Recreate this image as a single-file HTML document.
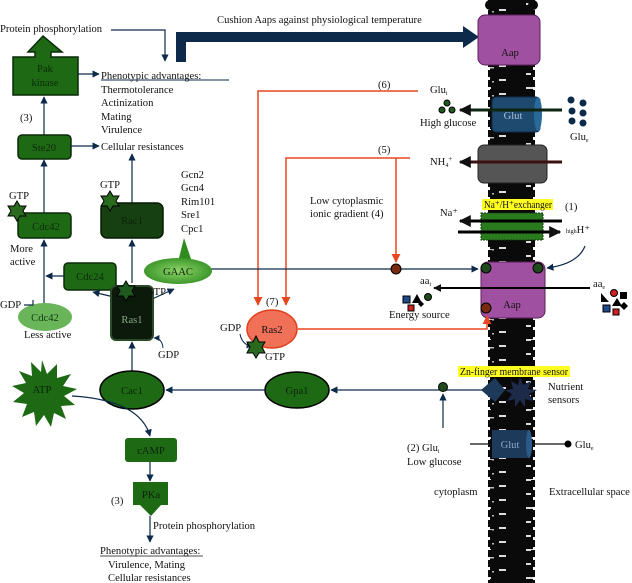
<!DOCTYPE html>
<html><head><meta charset="utf-8"><style>
html,body{margin:0;padding:0;background:#fff}
svg{display:block}
text{font-family:"Liberation Serif",serif;font-size:10.6px;fill:#111}
.w{fill:#cfe8c8;font-size:11px}
</style></head><body>
<svg width="632" height="583" viewBox="0 0 632 583" xmlns="http://www.w3.org/2000/svg">
<defs>
<marker id="a" viewBox="0 0 10 10" refX="9" refY="5" markerWidth="6" markerHeight="6" orient="auto"><path d="M0,0L10,5L0,10z" fill="#0d2a4a"/></marker>
<marker id="r" viewBox="0 0 10 10" refX="9" refY="5" markerWidth="6" markerHeight="6" orient="auto"><path d="M0,0L10,5L0,10z" fill="#e8461e"/></marker>
<marker id="k" viewBox="0 0 10 10" refX="9" refY="5" markerWidth="4" markerHeight="4" orient="auto"><path d="M0,0L10,5L0,10z" fill="#111"/></marker>
<pattern id="mem" width="43" height="14" patternUnits="userSpaceOnUse">
<rect width="43" height="14" fill="#0a0a0a"/>
<rect x="10" y="3" width="8" height="2" fill="#ddd"/><rect x="26" y="9" width="7" height="2" fill="#ddd"/>
<rect x="17" y="11" width="4" height="1.5" fill="#bbb"/>
</pattern>
<radialGradient id="gaac" cx="0.5" cy="0.5" r="0.6"><stop offset="0" stop-color="#8fd56a"/><stop offset="1" stop-color="#2e8b1e"/></radialGradient>
</defs>

<rect x="490" y="0" width="43" height="583" fill="url(#mem)"/>
<g fill="#0a0a0a"><circle cx="490" cy="5" r="5"/><circle cx="533" cy="5" r="5"/></g>
<path d="M490,0 V583 M533,0 V583" stroke="#0a0a0a" stroke-width="4" stroke-dasharray="7 3"/>

<text x="217" y="23">Cushion Aaps against physiological temperature</text>
<path d="M181,62 V37 H465" fill="none" stroke="#0d2a4a" stroke-width="10"/>
<path d="M463,26 L479,37 L463,48z" fill="#0d2a4a"/>

<rect x="478" y="15" width="62" height="50" rx="7" fill="#a050a0" stroke="#5a205a"/>
<text x="510" y="56" text-anchor="middle">Aap</text>

<rect x="492" y="97" width="48" height="35" rx="4" fill="#1e4a70" stroke="#0d2a4a"/>
<ellipse cx="538" cy="114" rx="4" ry="17" fill="#2a6a9a"/>
<text x="513" y="119" text-anchor="middle" style="fill:#a8c0d8">Glut</text>
<path d="M562,110 H460" stroke="#0e2410" stroke-width="3" marker-end="url(#k)"/>
<text x="430" y="93">Glu<tspan font-size="6" dy="2">i</tspan></text>
<g fill="#1e5a1e" stroke="#000"><circle cx="447" cy="103" r="3"/><circle cx="442" cy="110" r="3"/><circle cx="452" cy="110" r="3"/></g>
<text x="420" y="126">High glucose</text>
<g fill="#0d2a4a"><circle cx="571" cy="100" r="3.5"/><circle cx="583" cy="103" r="3.5"/><circle cx="572" cy="111" r="3.5"/><circle cx="583" cy="113" r="3.5"/><circle cx="572" cy="121" r="3.5"/><circle cx="583" cy="123" r="3.5"/></g>
<text x="570" y="140">Glu<tspan font-size="6" dy="2">e</tspan></text>

<rect x="478" y="145" width="69" height="38" rx="6" fill="#555" stroke="#222"/>
<path d="M562,162 H460" stroke="#3a1010" stroke-width="3" marker-end="url(#k)"/>
<text x="430" y="165">NH<tspan font-size="6" dy="2">4</tspan><tspan font-size="7" dy="-6">+</tspan></text>

<rect x="482" y="199" width="71" height="11" fill="#ffff20"/>
<text x="484" y="208" font-size="9.5" textLength="68" lengthAdjust="spacingAndGlyphs">Na⁺/H⁺exchanger</text>
<text x="565" y="210">(1)</text>
<rect x="481" y="213" width="62" height="27" fill="#2a7a1e" stroke="#153a10" stroke-dasharray="2 1"/>
<path d="M562,221 H460" stroke="#000" stroke-width="3" marker-end="url(#k)"/>
<path d="M458,232 H560" stroke="#000" stroke-width="3" marker-end="url(#k)"/>
<text x="440" y="216">Na⁺</text>
<text x="566" y="233"><tspan font-size="6">high</tspan>H⁺</text>
<path d="M585,246 Q578,264 547,268" fill="none" stroke="#0d2a4a" stroke-width="1.2" marker-end="url(#a)"/>

<rect x="481" y="262" width="64" height="56" rx="7" fill="#a050a0" stroke="#5a205a"/>
<text x="512" y="308" text-anchor="middle">Aap</text>
<circle cx="486" cy="268" r="5" fill="#1e4a1e" stroke="#000"/><circle cx="538" cy="268" r="5" fill="#1e4a1e" stroke="#000"/>
<circle cx="486" cy="308" r="5" fill="#7a2a10" stroke="#000"/>
<path d="M590,288 H434" stroke="#000" stroke-width="2" marker-end="url(#k)"/>
<text x="420" y="284">aa<tspan font-size="6" dy="2">i</tspan></text>
<text x="593" y="287">aa<tspan font-size="6" dy="2">e</tspan></text>
<g><rect x="403" y="296" width="7" height="7" fill="#1e4a8a" stroke="#000"/><path d="M412,303 l5,-9 5,9z" fill="#000"/><circle cx="428" cy="297" r="3.5" fill="#1e4a1e" stroke="#000"/><rect x="408" y="305" width="6" height="6" fill="#d02020" stroke="#000"/><path d="M421,301 l3,3 -3,3 -3,-3z" fill="#000"/></g>
<text x="389" y="318">Energy source</text>
<g><path d="M601,293 v9 h8z" fill="#000"/><circle cx="614" cy="293" r="3.5" fill="#d02020" stroke="#000"/><rect x="620" y="292" width="7" height="7" fill="#000"/><rect x="603" y="305" width="7" height="7" fill="#1e4a8a" stroke="#000"/><path d="M612,306 l5,-8 5,8z" fill="#000"/><rect x="613" y="309" width="6" height="6" fill="#d02020" stroke="#000"/><path d="M624,302 l4,4 -4,4 -4,-4z" fill="#000"/></g>

<text x="378" y="88">(6)</text>
<path d="M418,91 H258 V305" fill="none" stroke="#e8461e" stroke-width="1.5" marker-end="url(#r)"/>
<text x="378" y="153">(5)</text>
<path d="M410,158 H286 V305" fill="none" stroke="#e8461e" stroke-width="1.5" marker-end="url(#r)"/>
<path d="M396,158 V262" fill="none" stroke="#e8461e" stroke-width="1.5" marker-end="url(#r)"/>
<text x="310" y="204">Low cytoplasmic</text>
<text x="310" y="217">ionic gradient (4)</text>

<path d="M211,269 H478" stroke="#0d2a4a" stroke-width="1.2" marker-end="url(#a)"/>
<circle cx="396" cy="269" r="5" fill="#7a2a10" stroke="#000"/>

<text x="266" y="305">(7)</text>
<ellipse cx="272" cy="329" rx="25" ry="19" fill="#f07058" stroke="#e0401e" stroke-width="1.5"/>
<text x="272" y="333" text-anchor="middle">Ras2</text>
<path d="M298,329 H487 V316" fill="none" stroke="#e8461e" stroke-width="1.5" marker-end="url(#r)"/>
<text x="220" y="331">GDP</text>
<path d="M240,334 Q242,345 252,346" fill="none" stroke="#0d2a4a" marker-end="url(#a)"/>
<path d="M256,336 l3,6 6,0 -3,5 3,6 -6,0 -3,5 -3,-5 -6,0 3,-6 -3,-5 6,0z" fill="#2a6a1e" stroke="#000"/>
<text x="265" y="360">GTP</text>

<text x="0" y="32">Protein phosphorylation</text>
<path d="M111,30 H165 V61" fill="none" stroke="#0d2a4a" stroke-width="1.2" marker-end="url(#a)"/>
<path d="M13,57 H35 V52 H28 L43,36 L62,52 H51 V57 H78 V95 H13z" fill="#1e6a14" stroke="#0a2a08" stroke-width="1.5"/>
<text x="45" y="72" text-anchor="middle" style="fill:#0a2a08">Pak</text>
<text x="45" y="86" text-anchor="middle" style="fill:#0a2a08">kinase</text>
<path d="M78,74 H99" stroke="#0d2a4a" stroke-width="1.2" marker-end="url(#a)"/>
<text x="101" y="79">Phenotypic advantages:</text>
<path d="M101,80 H229" stroke="#0d2a4a"/>
<text x="101" y="93">Thermotolerance</text>
<text x="101" y="106">Actinization</text>
<text x="101" y="120">Mating</text>
<text x="101" y="133">Virulence</text>
<text x="20" y="121">(3)</text>
<path d="M44,135 V97" stroke="#0d2a4a" stroke-width="1.2" marker-end="url(#a)"/>
<rect x="18" y="135" width="53" height="24" rx="4" fill="#1e6a14" stroke="#0a2a08" stroke-width="1.5"/>
<text x="44" y="151" text-anchor="middle" style="fill:#0a2a08">Ste20</text>
<path d="M71,146 H99" stroke="#0d2a4a" stroke-width="1.2" marker-end="url(#a)"/>
<text x="101" y="150">Cellular resistances</text>
<path d="M44,213 V160" stroke="#0d2a4a" stroke-width="1.2" marker-end="url(#a)"/>
<rect x="18" y="213" width="53" height="25" rx="4" fill="#1e6a14" stroke="#0a2a08" stroke-width="1.5"/>
<text x="46" y="230" text-anchor="middle" style="fill:#0a2a08">Cdc42</text>
<path d="M17,201 l3,5 6,0 -3,5 3,5 -6,0 -3,5 -3,-5 -6,0 3,-5 -3,-5 6,0z" fill="#2a6a1e" stroke="#000"/>
<text x="9" y="199">GTP</text>
<text x="10" y="252">More</text>
<text x="10" y="265">active</text>
<path d="M44,303 V240" stroke="#0d2a4a" stroke-width="1.2" marker-end="url(#a)"/>
<rect x="64" y="263" width="52" height="27" rx="4" fill="#1e6a14" stroke="#0a2a08" stroke-width="1.5"/>
<text x="90" y="280" text-anchor="middle" style="fill:#0a2a08">Cdc24</text>
<path d="M64,276 H46" stroke="#0d2a4a" stroke-width="1.2" marker-end="url(#a)"/>
<path d="M118,298 L93,292" stroke="#0d2a4a" stroke-width="1.2" marker-end="url(#a)"/>
<ellipse cx="45" cy="317" rx="27" ry="14" fill="#6ab55a"/>
<text x="45" y="321" text-anchor="middle" style="fill:#133a10">Cdc42</text>
<text x="24" y="338">Less active</text>
<text x="0" y="308">GDP</text>
<path d="M24,305 H33 V300" fill="none" stroke="#0d2a4a" stroke-width="1.2"/>

<path d="M132,203 V154" stroke="#0d2a4a" stroke-width="1.2" marker-end="url(#a)"/>
<rect x="101" y="203" width="62" height="35" rx="6" fill="#164012" stroke="#071a06" stroke-width="1.5"/>
<text x="132" y="224" text-anchor="middle" style="fill:#0a220a">Rac1</text>
<path d="M110,191 l3,5 6,0 -3,5 3,5 -6,0 -3,5 -3,-5 -6,0 3,-5 -3,-5 6,0z" fill="#2a6a1e" stroke="#000"/>
<text x="100" y="188">GTP</text>
<text x="181" y="178">Gcn2</text>
<text x="181" y="191">Gcn4</text>
<text x="181" y="205">Rim101</text>
<text x="181" y="218">Sre1</text>
<text x="181" y="232">Cpc1</text>
<path d="M178,262 L184,238 L192,262z" fill="#2e8b1e"/>
<ellipse cx="178" cy="271" rx="34" ry="13" fill="url(#gaac)"/>
<text x="178" y="275" text-anchor="middle" style="fill:#0a220a">GAAC</text>
<path d="M132,283 V240" stroke="#0d2a4a" stroke-width="1.2" marker-end="url(#a)"/>
<path d="M150,300 L174,289" stroke="#0d2a4a" stroke-width="1.2" marker-end="url(#a)"/>

<rect x="111" y="286" width="42" height="54" rx="5" fill="#0c1a0c" stroke="#2a4a2a" stroke-width="2"/>
<path d="M126,281 l3,5 6,0 -3,5 3,5 -6,0 -3,5 -3,-5 -6,0 3,-5 -3,-5 6,0z" fill="#1e5a1e" stroke="#000"/>
<text x="146" y="295" style="fill:#111">GTP</text>
<text x="132" y="323" text-anchor="middle" style="fill:#8aa88a">Ras1</text>
<text x="158" y="358">GDP</text>
<path d="M163,348 Q162,338 154,338" fill="none" stroke="#0d2a4a" marker-end="url(#a)"/>

<path d="M132,372 V342" stroke="#0d2a4a" stroke-width="1.2" marker-end="url(#a)"/>
<ellipse cx="132" cy="390" rx="32" ry="19" fill="#1e6a14" stroke="#000" stroke-width="1.5"/>
<text x="132" y="394" text-anchor="middle" style="fill:#0a220a">Cac1</text>
<ellipse cx="297" cy="390" rx="32" ry="18" fill="#1e6a14" stroke="#000" stroke-width="1.5"/>
<text x="297" y="394" text-anchor="middle" style="fill:#0a220a">Gpa1</text>
<path d="M265,390 H166" stroke="#0d2a4a" stroke-width="1.2" marker-end="url(#a)"/>
<path d="M482,390 H331" stroke="#0d2a4a" stroke-width="1.2" marker-end="url(#a)"/>
<circle cx="443" cy="387" r="4.5" fill="#1e4a1e" stroke="#000"/>
<path d="M443,428 V394" stroke="#0d2a4a" stroke-width="1.2" marker-end="url(#a)"/>
<rect x="458" y="366" width="112" height="11" fill="#ffff20"/>
<text x="460" y="375" font-size="9.5" textLength="108" lengthAdjust="spacingAndGlyphs">Zn-finger membrane sensor</text>
<path d="M495,378 L505,390 L495,402 L481,390z" fill="#1e3a5a"/>
<path d="M520,377 l3,8 8,-4 -3,8 9,1 -8,4 5,7 -9,-2 0,8 -5,-7 -5,7 0,-8 -8,2 5,-7 -7,-4 8,-1 -2,-8 7,4z" fill="#1e2a4a"/>
<text x="548" y="390">Nutrient</text>
<text x="548" y="403">sensors</text>

<path d="M42,360 l5,14 10,-10 0,14 14,-4 -8,12 14,3 -13,7 11,9 -14,1 5,13 -12,-6 -3,14 -7,-12 -8,11 -2,-14 -12,5 5,-13 -14,-2 11,-9 -12,-7 14,-3 -7,-12 13,5 -1,-14 10,10z" fill="#1e6a14"/>
<text x="42" y="393" text-anchor="middle" style="fill:#0a220a">ATP</text>
<path d="M72,396 Q140,400 150,436" fill="none" stroke="#0d2a4a" stroke-width="1.2" marker-end="url(#a)"/>
<rect x="125" y="438" width="52" height="24" rx="3" fill="#1e6a14"/>
<text x="151" y="454" text-anchor="middle" style="fill:#0a220a">cAMP</text>
<path d="M150,462 V481" stroke="#0d2a4a" stroke-width="1.2" marker-end="url(#a)"/>
<path d="M133,482 H168 V505 H161 L151,516 L140,505 H133z" fill="#1e6a14"/>
<text x="151" y="498" text-anchor="middle" style="fill:#0a220a">PKa</text>
<text x="111" y="504">(3)</text>
<path d="M150,516 V542" stroke="#0d2a4a" stroke-width="1.2" marker-end="url(#a)"/>
<text x="153" y="529">Protein phosphorylation</text>
<text x="100" y="554">Phenotypic advantages:</text>
<path d="M100,556 H203" stroke="#111" stroke-width="0.7"/>
<text x="108" y="568">Virulence, Mating</text>
<text x="108" y="581">Cellular resistances</text>

<path d="M470,444 H568" stroke="#111" stroke-width="1.2"/>
<rect x="492" y="430" width="38" height="28" fill="#1e3a5a"/>
<ellipse cx="529" cy="444" rx="3" ry="14" fill="#2a5a8a"/>
<text x="510" y="448" text-anchor="middle" style="fill:#8aa8c8">Glut</text>
<circle cx="568" cy="444" r="3.5" fill="#000"/>
<text x="575" y="448">Glu<tspan font-size="6" dy="2">e</tspan></text>
<text x="407" y="451">(2) Glu<tspan font-size="6" dy="2">i</tspan></text>
<text x="407" y="465">Low glucose</text>
<text x="434" y="495">cytoplasm</text>
<text x="549" y="495">Extracellular space</text>
</svg>
</body></html>
